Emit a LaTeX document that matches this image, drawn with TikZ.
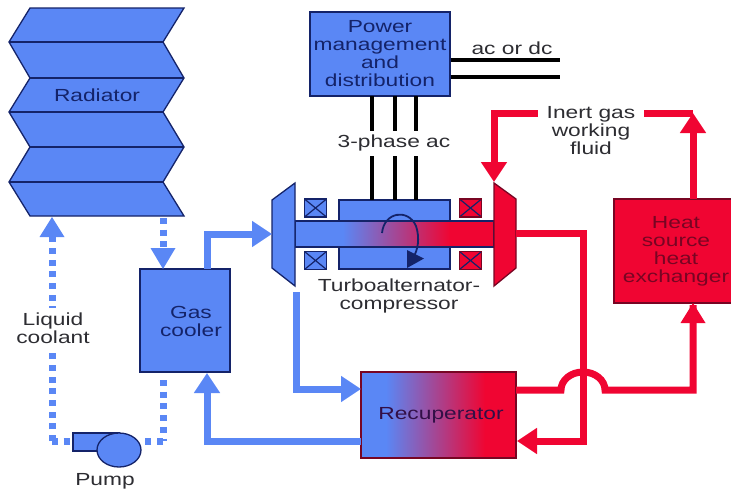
\documentclass[tikz,border=0pt]{standalone}
\usepackage{fontspec}
\setmainfont[FakeStretch=1.3]{Liberation Sans}
\usetikzlibrary{arrows.meta,shapes.geometric}
\definecolor{coolblue}{RGB}{90,135,245}
\definecolor{hotred}{RGB}{240,5,50}
\definecolor{darknavy}{RGB}{20,35,105}
\definecolor{darkmaroon}{RGB}{120,5,35}
\definecolor{labelgrey}{RGB}{45,45,50}
\definecolor{recuptext}{RGB}{50,15,70}
\pgfdeclarehorizontalshading{shaftshade}{100bp}{color(0bp)=(coolblue); color(37bp)=(coolblue); color(64bp)=(hotred); color(100bp)=(hotred)}
\pgfdeclarehorizontalshading{recupshade}{100bp}{color(0bp)=(coolblue); color(33bp)=(coolblue); color(65bp)=(hotred); color(100bp)=(hotred)}
\tikzset{
txt/.style={font=\fontsize{17.5}{18}\selectfont, align=center, inner sep=0pt, text=labelgrey},
bluebox/.style={txt, draw=darknavy, line width=1.3pt, fill=coolblue, text=darknavy},
redbox/.style={txt, draw=darkmaroon, line width=1.3pt, fill=hotred, text=darkmaroon},
coil/.style={draw=darknavy, line width=1.5pt, minimum width=22pt, minimum height=18pt, inner sep=0pt,
	path picture={\draw[darknavy, line width=1.2pt] (path picture bounding box.south west) -- (path picture bounding box.north east)
		(path picture bounding box.north west) -- (path picture bounding box.south east);}},
bluepipe/.style={draw=coolblue, line width=7pt},
redpipe/.style={draw=hotred, line width=7pt},
bluehead/.style={-{Triangle[length=20pt,width=25pt]}},
dotpipe/.style={bluepipe, dash pattern=on 6pt off 5.7pt},
wire/.style={draw=black, line width=3.2pt}
}

\begin{document}
\begin{tikzpicture}[x=1pt, y=-1pt]
	\useasboundingbox (0,0) rectangle (731,491);
	% radiator panels
	\filldraw[fill=coolblue, draw=darknavy, line width=1.3pt] (30,8) -- (184,8) -- (163,42) -- (184,78) -- (163,112) -- (184,147) -- (163,182) -- (184,216)
		-- (30,216) -- (9,182) -- (30,147) -- (9,112) -- (30,78) -- (9,42) -- cycle;
	\draw[darknavy, line width=1.3pt] (9,42) -- (163,42) (30,78) -- (184,78) (9,112) -- (163,112) (30,147) -- (184,147) (9,182) -- (163,182);
	\node[txt, text=darknavy] (radiator) at (97,95) {Radiator};

	% boxes
	\node[bluebox, minimum width=140pt, minimum height=84pt] (power) at (380,54) {Power\\management\\and\\distribution};
	\node[bluebox, minimum width=90pt, minimum height=103pt] (cooler) at (185,320.5) {};
	\node[txt, text=darknavy] (coolertext) at (191,321) {Gas\\cooler};
	\node[bluebox, minimum width=111pt, minimum height=69pt] (alternator) at (394.5,234.5) {};
	\node[redbox, minimum width=124pt, minimum height=104pt] (heatsource) at (676,251) {Heat\\source\\heat\\exchanger};
	\node[draw=darkmaroon, line width=1.3pt, shading=recupshade, minimum width=155pt, minimum height=86pt, inner sep=0pt, txt, text=recuptext] (recuperator) at (438.5,415) {\hspace*{5pt}Recuperator};

	% turbine, compressor and shaft
	\node[coil, fill=coolblue] (coilA) at (315.5,208) {};
	\node[coil, fill=coolblue] (coilB) at (315.5,260.5) {};
	\node[coil, fill=hotred, draw=darkmaroon] (coilC) at (470.5,208) {};
	\node[coil, fill=hotred, draw=darkmaroon] (coilD) at (470.5,260.5) {};
	\path[draw=darknavy, line width=1.3pt, shading=shaftshade] (295,221) rectangle (494,247);
	\filldraw[fill=coolblue, draw=darknavy, line width=1.3pt] (295,183) -- (272,200) -- (272,268) -- (295,286) -- cycle;
	\filldraw[fill=hotred, draw=darkmaroon, line width=1.3pt] (494,183) -- (516,199) -- (516,268) -- (494,286) -- cycle;
	\draw[darknavy, line width=1.8pt] (382,233) .. controls (384,212) and (408,208) .. (416,226) .. controls (420,238) and (418,250) .. (413,258);
	\fill[darknavy] (407,250) -- (424,258.5) -- (407,268) -- cycle;
	\node[txt] (turbolabel) at (399,296) {Turboalternator-\\compressor};

	\coordinate (turbinein) at (272,234);
	\coordinate (turbineout) at (516,233);
	\coordinate (turbinetop) at (494,182);
	\coordinate (turbinelow) at (296,292);
	\coordinate (radiatorA) at (52,218);
	\coordinate (radiatorB) at (163,218);
	\coordinate (pumpA) at (52,441);
	\coordinate (pumpB) at (163,441);

	% electrical side
	\draw[wire] (power.east |- 0,60) -- (560,60);
	\draw[wire] (power.east |- 0,77) -- (560,77);
	\node[txt] (aclabel) at (512,48) {ac or dc};
	\foreach \px in {372,395,416}
		\draw[wire] (\px,96) -- (\px,200);
	\node[txt, fill=white, minimum height=25pt, minimum width=116pt] (phaselabel) at (394,143) {3-phase ac};

	% liquid loop
	\draw[dotpipe] (pumpA) -- (radiatorA |- 0,237);
	\fill[coolblue] (39.5,237) -- (64.5,237) -- (52,217) -- cycle;
	\draw[dotpipe] (radiatorB) -- (radiatorB |- 0,248);
	\fill[coolblue] (150.5,248) -- (175.5,248) -- (163,269) -- cycle;
	\draw[dotpipe] (163,380) -- (pumpB);
	\draw[dotpipe] (pumpA) -- (73,441);
	\draw[dotpipe] (pumpB) -- (140,441);
	\node[txt, fill=white, inner ysep=5pt] (liquidlabel) at (53,328) {Liquid\\coolant};

	% pump
	\filldraw[fill=coolblue, draw=darknavy, line width=1.3pt] (73,433) rectangle (119,451);
	\node[ellipse, draw=darknavy, line width=1.3pt, fill=coolblue, minimum width=44pt, minimum height=34pt, inner sep=0pt] (pump) at (119,450) {};
	\node[txt] (pumplabel) at (105,481) {Pump};

	% gas side, cold
	\draw[bluepipe, bluehead] (207,269) |- (turbinein);
	\draw[bluepipe, bluehead] (turbinelow) |- (361,389);
	\draw[bluepipe, bluehead] (361,441) -| (207,373);

	% gas side, hot
	\draw[redpipe, bluehead] (turbineout) -| (583,441) -- (517,441);
	\draw[redpipe] (516,390) -- (561,390) arc[start angle=180, end angle=360, x radius=22, y radius=18] -- (693,390) -- (693,305);
	\fill[hotred] (680.5,323) -- (705.5,323) -- (693,303) -- cycle;
	\draw[redpipe, bluehead] (693,199) -- (693,113);
	\draw[redpipe, bluehead] (693,113) -| (turbinetop);
	\node[txt, fill=white, inner xsep=9pt, inner ysep=3pt] (inertlabel) at (591,131) {Inert gas\\working\\fluid};
\end{tikzpicture}
\end{document}
